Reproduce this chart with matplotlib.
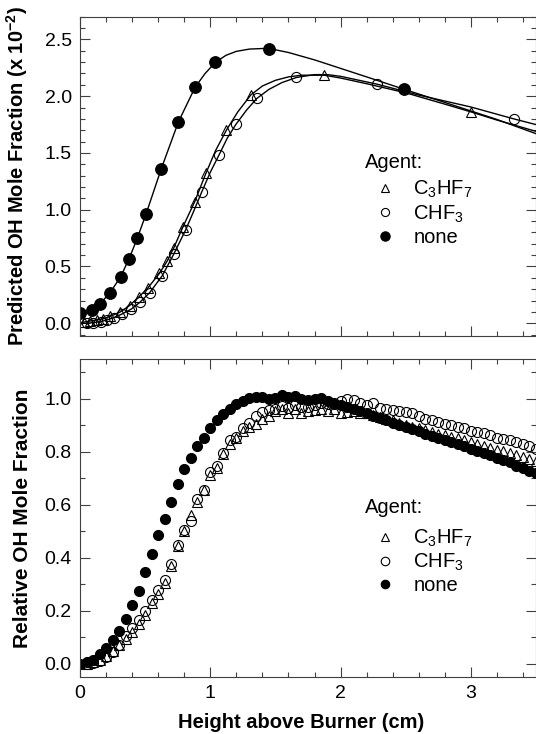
import matplotlib
matplotlib.use("Agg")
import matplotlib.pyplot as plt
import numpy as np
from matplotlib.ticker import MultipleLocator, FormatStrFormatter

plt.rcParams['font.family'] = ['Liberation Sans', 'DejaVu Sans']
plt.rcParams['mathtext.fontset'] = 'custom'
plt.rcParams['mathtext.rm'] = 'Liberation Sans'
plt.rcParams['mathtext.it'] = 'Liberation Sans:italic'
plt.rcParams['mathtext.bf'] = 'Liberation Sans:bold'
plt.rcParams['mathtext.default'] = 'regular'

# ---------------- top panel: predicted OH (x 10^-2) ----------------
none_line_x = [0.00, 0.05, 0.09, 0.153, 0.23, 0.312, 0.376, 0.44, 0.507, 0.624, 0.755, 0.883, 0.96,
               1.039, 1.12, 1.20, 1.30, 1.40, 1.453, 1.60, 1.80, 2.00, 2.20, 2.49, 2.80, 3.00, 3.20, 3.50]
none_line_y = [0.09, 0.10, 0.118, 0.171, 0.268, 0.41, 0.567, 0.75, 0.963, 1.362, 1.773, 2.078, 2.20,
               2.298, 2.36, 2.395, 2.415, 2.42, 2.42, 2.385, 2.32, 2.245, 2.17, 2.06, 1.945, 1.87, 1.795, 1.67]
none_mark_x = [0.00, 0.09, 0.153, 0.23, 0.312, 0.376, 0.44, 0.507, 0.624, 0.755, 0.883, 1.039, 1.453, 2.49]
none_mark_y = [0.09, 0.118, 0.171, 0.268, 0.41, 0.567, 0.75, 0.963, 1.362, 1.773, 2.078, 2.298, 2.42, 2.06]

chf3_line_x = [0.00, 0.05, 0.10, 0.16, 0.21, 0.26, 0.32, 0.395, 0.46, 0.535, 0.632, 0.718, 0.81, 0.87,
               0.934, 1.00, 1.068, 1.13, 1.197, 1.28, 1.357, 1.45, 1.55, 1.661, 1.80, 1.90, 2.00, 2.28,
               2.60, 3.00, 3.33, 3.50]
chf3_line_y = [0.00, 0.00, 0.005, 0.015, 0.03, 0.05, 0.08, 0.126, 0.185, 0.27, 0.42, 0.606, 0.82, 0.98,
               1.156, 1.33, 1.485, 1.63, 1.753, 1.88, 1.98, 2.06, 2.12, 2.165, 2.19, 2.19, 2.175, 2.106,
               2.01, 1.905, 1.80, 1.75]
chf3_mark_x = [0.05, 0.10, 0.16, 0.21, 0.26, 0.32, 0.395, 0.46, 0.535, 0.632, 0.718, 0.81, 0.934,
               1.068, 1.197, 1.357, 1.661, 2.28, 3.33]
chf3_mark_y = [0.00, 0.005, 0.015, 0.03, 0.05, 0.08, 0.126, 0.185, 0.27, 0.42, 0.606, 0.82, 1.156,
               1.485, 1.753, 1.98, 2.165, 2.106, 1.80]

c3hf7_line_x = [0.00, 0.03, 0.08, 0.13, 0.18, 0.23, 0.31, 0.38, 0.45, 0.52, 0.61, 0.67, 0.72, 0.79,
                0.88, 0.966, 1.04, 1.123, 1.21, 1.31, 1.40, 1.50, 1.60, 1.70, 1.873, 2.00, 2.20, 2.50,
                2.80, 3.00, 3.20, 3.50]
c3hf7_line_y = [0.005, 0.01, 0.02, 0.03, 0.04, 0.06, 0.10, 0.156, 0.23, 0.31, 0.44, 0.55, 0.665, 0.85,
                1.07, 1.32, 1.52, 1.70, 1.86, 2.01, 2.09, 2.14, 2.17, 2.185, 2.185, 2.16, 2.11, 2.03,
                1.93, 1.862, 1.79, 1.69]
c3hf7_mark_x = [0.03, 0.08, 0.13, 0.18, 0.23, 0.31, 0.38, 0.45, 0.52, 0.61, 0.67, 0.72, 0.79, 0.88,
                0.966, 1.123, 1.31, 1.873, 3.00]
c3hf7_mark_y = [0.01, 0.02, 0.03, 0.04, 0.06, 0.10, 0.156, 0.23, 0.31, 0.44, 0.55, 0.665, 0.85, 1.07,
                1.32, 1.70, 2.01, 2.185, 1.862]

# ---------------- bottom panel: relative OH ----------------
rel_x = [0.00, 0.05, 0.10, 0.15, 0.20, 0.25, 0.30, 0.35, 0.40, 0.45, 0.50, 0.55, 0.60, 0.65, 0.70,
         0.75, 0.80, 0.85, 0.90, 0.95, 1.00, 1.05, 1.10, 1.15, 1.20, 1.25, 1.30, 1.35, 1.40, 1.45,
         1.50, 1.55, 1.60, 1.65, 1.70, 1.75, 1.80, 1.85, 1.90, 1.95, 2.00, 2.05, 2.10, 2.15, 2.20,
         2.25, 2.30, 2.35, 2.40, 2.45, 2.50, 2.55, 2.60, 2.65, 2.70, 2.75, 2.80, 2.85, 2.90, 2.95,
         3.00, 3.05, 3.10, 3.15, 3.20, 3.25, 3.30, 3.35, 3.40, 3.45, 3.50]
rel_none = [0.000, 0.005, 0.015, 0.035, 0.060, 0.090, 0.125, 0.170, 0.220, 0.275, 0.345, 0.415, 0.485,
            0.545, 0.610, 0.680, 0.735, 0.775, 0.820, 0.852, 0.890, 0.918, 0.942, 0.962, 0.980, 0.993,
            1.002, 1.005, 1.005, 1.000, 1.003, 1.013, 1.005, 1.010, 1.000, 0.995, 0.998, 1.003, 0.990,
            0.982, 0.975, 0.968, 0.960, 0.953, 0.945, 0.935, 0.927, 0.918, 0.910, 0.902, 0.893, 0.885,
            0.877, 0.868, 0.860, 0.852, 0.845, 0.836, 0.828, 0.820, 0.810, 0.802, 0.795, 0.786, 0.778,
            0.770, 0.760, 0.748, 0.738, 0.728, 0.718]
rel_c3hf7 = [np.nan, 0.000, 0.005, 0.015, 0.030, 0.048, 0.070, 0.095, 0.120, 0.150, 0.185, 0.228, 0.262,
             0.305, 0.370, 0.445, 0.500, 0.560, 0.610, 0.655, 0.712, 0.740, 0.790, 0.830, 0.850, 0.880,
             0.893, 0.905, 0.925, 0.935, 0.955, 0.960, 0.945, 0.962, 0.948, 0.955, 0.958, 0.960, 0.955,
             0.962, 0.945, 0.950, 0.955, 0.948, 0.945, 0.940, 0.930, 0.925, 0.918, 0.908, 0.902, 0.895,
             0.888, 0.882, 0.873, 0.868, 0.862, 0.855, 0.850, 0.845, 0.836, 0.828, 0.822, 0.815, 0.808,
             0.802, 0.795, 0.788, 0.780, 0.772, 0.765]
rel_chf3 = [np.nan, 0.000, 0.003, 0.012, 0.025, 0.045, 0.070, 0.105, 0.135, 0.165, 0.200, 0.240, 0.280,
            0.315, 0.375, 0.448, 0.505, 0.540, 0.620, 0.655, 0.725, 0.745, 0.795, 0.845, 0.855, 0.890,
            0.910, 0.935, 0.950, 0.958, 0.960, 0.972, 0.965, 0.975, 0.968, 0.970, 0.975, 0.985, 0.980,
            0.985, 0.990, 1.000, 0.995, 0.985, 0.975, 0.985, 0.965, 0.962, 0.958, 0.955, 0.950, 0.945,
            0.935, 0.922, 0.918, 0.912, 0.905, 0.900, 0.895, 0.888, 0.880, 0.875, 0.870, 0.862, 0.852,
            0.848, 0.845, 0.835, 0.828, 0.820, 0.812]

top_yticks = [0.0, 0.5, 1.0, 1.5, 2.0, 2.5]
bot_yticks = [0.0, 0.2, 0.4, 0.6, 0.8, 1.0]
xticks = [0, 1, 2, 3]

legend_labels = ['C$_3$HF$_7$', 'CHF$_3$', 'none']

spine_col = '#404040'
fig = plt.figure(figsize=(5.36, 7.34), dpi=100)
ax1 = fig.add_axes([0.1493, 0.5426, 0.8507, 0.4346])
ax2 = fig.add_axes([0.1493, 0.0777, 0.8507, 0.4332])

# top
ax1.plot(none_line_x, none_line_y, '-', color='k', lw=1.0)
ax1.plot(chf3_line_x, chf3_line_y, '-', color='k', lw=1.0)
ax1.plot(c3hf7_line_x, c3hf7_line_y, '-', color='k', lw=1.0)
h1 = ax1.plot(c3hf7_mark_x, c3hf7_mark_y, '^', ms=7.5, mfc='none', mec='k', mew=0.8, ls='none',
              label=legend_labels[0])[0]
h2 = ax1.plot(chf3_mark_x, chf3_mark_y, 'o', ms=7.3, mfc='none', mec='k', mew=0.8, ls='none',
              label=legend_labels[1])[0]
h3 = ax1.plot(none_mark_x, none_mark_y, 'o', ms=8.4, mfc='k', mec='k', mew=0.8, ls='none',
              label=legend_labels[2])[0]

# bottom
g1 = ax2.plot(rel_x, rel_c3hf7, '^', ms=7.6, mfc='none', mec='k', mew=0.8, ls='none',
              label=legend_labels[0])[0]
g2 = ax2.plot(rel_x, rel_chf3, 'o', ms=7.2, mfc='none', mec='k', mew=0.8, ls='none',
              label=legend_labels[1])[0]
g3 = ax2.plot(rel_x, rel_none, 'o', ms=7.2, mfc='k', mec='k', mew=0.8, ls='none',
              label=legend_labels[2])[0]

for ax, yt, ylim, minor in [(ax1, top_yticks, (-0.11, 2.7), 0.1), (ax2, bot_yticks, (-0.05, 1.15), 0.1)]:
    ax.set_xlim(0, 3.5)
    ax.set_ylim(*ylim)
    ax.set_xticks(xticks)
    ax.set_yticks(yt)
    ax.xaxis.set_minor_locator(MultipleLocator(0.2))
    ax.yaxis.set_minor_locator(MultipleLocator(minor))
    ax.yaxis.set_major_formatter(FormatStrFormatter('%.1f'))
    ax.tick_params(which='both', direction='in', top=True, right=True, color=spine_col, width=0.8)
    ax.tick_params(which='major', length=7, labelsize=14, pad=6)
    ax.tick_params(which='minor', length=3.5)
    for s in ax.spines.values():
        s.set_color(spine_col)
        s.set_linewidth(0.8)

ax1.tick_params(labelbottom=False)

ax1.set_ylabel('Predicted OH Mole Fraction (x 10$^{\\mathbf{-2}}$)', fontsize=14.5, fontweight='bold')
ax2.set_ylabel('Relative OH Mole Fraction', fontsize=15, fontweight='bold')
ax1.yaxis.set_label_coords(-0.11, 0.5)
ax2.yaxis.set_label_coords(-0.105, 0.5)
ax2.set_xlabel('Height above Burner (cm)', fontsize=14.5, fontweight='bold')
ax2.xaxis.set_label_coords(0.485, -0.113)

for ax, handles, ms_scale, ay, off in [(ax1, [h1, h2, h3], 0.8, 0.542, 0.051),
                                       (ax2, [g1, g2, g3], 0.85, 0.532, 0.063)]:
    ax.text(0.625, ay, 'Agent:', transform=ax.transAxes, fontsize=14.5, ha='left', va='center')
    ax.legend(handles=handles, loc='upper left', bbox_to_anchor=(0.647, ay - off), frameon=False,
              fontsize=14.5, handlelength=1.0, handletextpad=0.9, labelspacing=0.15,
              borderpad=0, borderaxespad=0, markerscale=ms_scale)

fig.savefig('out.png', dpi=100)
